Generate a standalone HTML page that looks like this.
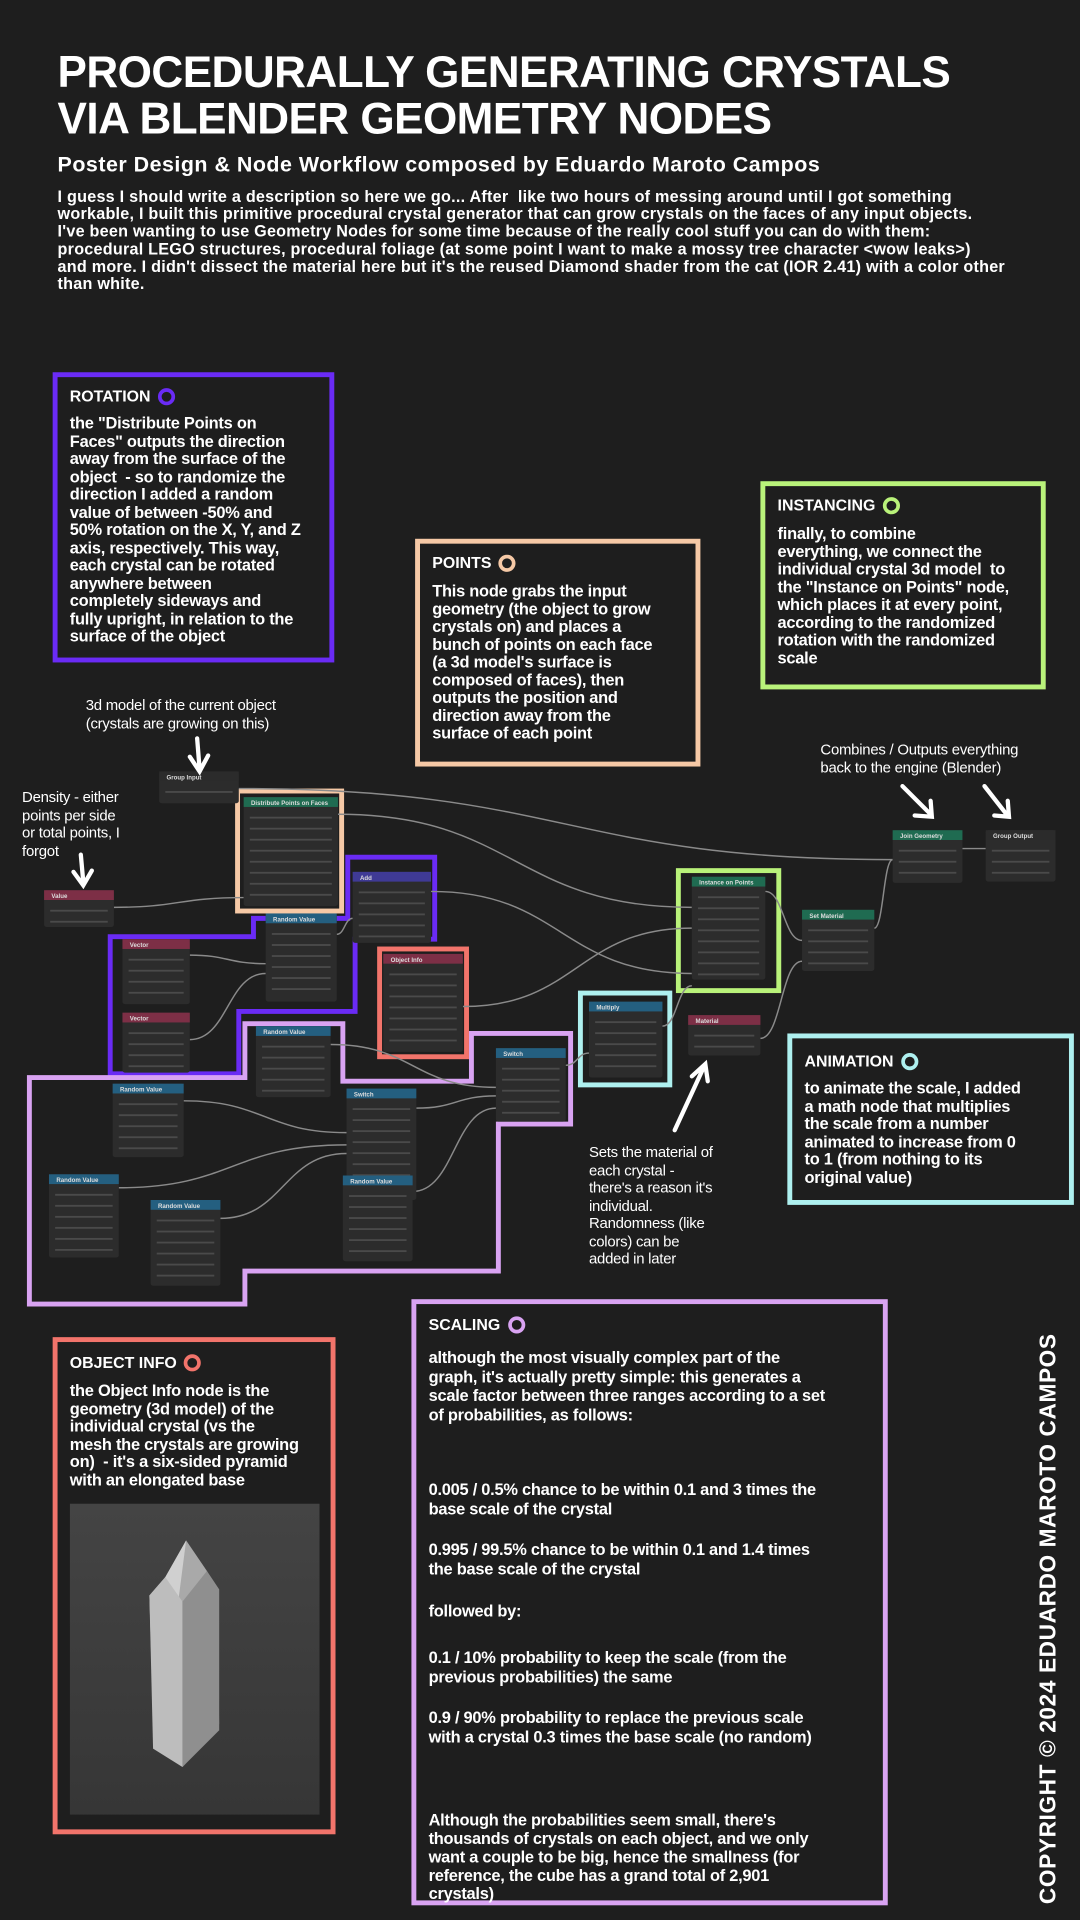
<!DOCTYPE html>
<html><head><meta charset="utf-8"><style>
html,body{margin:0;padding:0;background:#1e1e1e;width:1080px;height:1920px;overflow:hidden}
#wrap{position:absolute;left:0;top:0;width:882px;height:1568px;transform:scale(1.22449);transform-origin:0 0;font-family:"Liberation Sans",sans-serif;color:#fff;font-weight:bold}
.abs{position:absolute}
h1{position:absolute;left:47px;top:40px;margin:0;font-size:36px;line-height:38px;letter-spacing:-0.45px;font-weight:900;white-space:nowrap}
.sub{left:47px;top:124px;font-size:17.5px;letter-spacing:0.4px;white-space:nowrap}
.desc{left:47px;top:154px;font-size:13.2px;line-height:14.2px;letter-spacing:0.2px;white-space:nowrap}
.box{position:absolute;border:4px solid;box-sizing:border-box;background:#1e1e1e}
.box .t{position:absolute;left:10px;top:8px;font-size:13px;display:flex;align-items:center;gap:6px}
.dot{width:8px;height:8px;border-radius:50%;border:3px solid;display:inline-block}
.box .b{position:absolute;left:10px;top:32px;font-size:13.4px;line-height:14.5px;letter-spacing:-0.2px;white-space:nowrap}
.note{position:absolute;font-weight:normal;font-size:12.2px;line-height:14.5px;white-space:nowrap;letter-spacing:-0.2px}
.copy{position:absolute;left:845px;top:1555px;transform:rotate(-90deg);transform-origin:0 0;font-size:18.5px;font-weight:900;white-space:nowrap;letter-spacing:0.5px}
</style></head><body>
<div id="wrap">
<h1>PROCEDURALLY GENERATING CRYSTALS<br>VIA BLENDER GEOMETRY NODES</h1>
<div class="abs sub">Poster Design &amp; Node Workflow composed by Eduardo Maroto Campos</div>
<div class="abs desc">I guess I should write a description so here we go... After&nbsp; like two hours of messing around until I got something<br>workable, I built this primitive procedural crystal generator that can grow crystals on the faces of any input objects.<br>I've been wanting to use Geometry Nodes for some time because of the really cool stuff you can do with them:<br>procedural LEGO structures, procedural foliage (at some point I want to make a mossy tree character &lt;wow leaks&gt;)<br>and more. I didn't dissect the material here but it's the reused Diamond shader from the cat (IOR 2.41) with a color other<br>than white.</div>

<svg class="abs" style="left:0;top:0" width="882" height="1568" id="graph">
<g id="outlines" fill="none" stroke-width="4">
<polygon stroke="#6a2bf5" points="284,700 355,700 355,767 290,767 290,826 195,826 195,877 90,877 90,765 207,765 207,750 284,750"/>
<polygon stroke="#d9a3f2" points="24,880 200,880 200,836 280,836 280,883 385,883 385,844 466,844 466,918 407,918 407,1038 200,1038 200,1065 24,1065"/>
<rect stroke="#f6c9a6" x="194" y="646" width="85" height="98"/>
<rect stroke="#f2746b" x="310" y="775" width="71" height="88"/>
<rect stroke="#b9f27a" x="554" y="711" width="82" height="98"/>
<rect stroke="#aef0ef" x="474" y="811" width="73" height="75"/>
</g>
<g id="wires" fill="none" stroke="#8a8a8a" stroke-width="1.2"></g>
<g id="nodes"></g>
<g id="arrows" stroke="#fff" stroke-width="3.5" fill="none" stroke-linecap="round">
<path d="M161,603 L163,628 M155,618 L163,630 L170,617"/>
<path d="M66,698 L68,720 M60,712 L68,723 L75,711"/>
<path d="M737,642 L760,665 M747,666 L761,667 L760,654"/>
<path d="M804,642 L822,665 M812,666 L824,667 L823,654"/>
<path d="M551,923 L575,871 M565,879 L576,869 L578,883"/>
</g>
</svg>

<div class="note" style="left:70px;top:569px">3d model of the current object<br>(crystals are growing on this)</div>
<div class="note" style="left:18px;top:644px">Density - either<br>points per side<br>or total points, I<br>forgot</div>
<div class="note" style="left:670px;top:605px">Combines / Outputs everything<br>back to the engine (Blender)</div>
<div class="note" style="left:481px;top:934px">Sets the material of<br>each crystal -<br>there's a reason it's<br>individual.<br>Randomness (like<br>colors) can be<br>added in later</div>

<div class="box" style="left:43px;top:304px;width:230px;height:237px;border-color:#6a2bf5">
<div class="t"><span>ROTATION</span><span class="dot" style="border-color:#6a2bf5"></span></div>
<div class="b" style="top:31px">the "Distribute Points on<br>Faces" outputs the direction<br>away from the surface of the<br>object&nbsp; - so to randomize the<br>direction I added a random<br>value of between -50% and<br>50% rotation on the X, Y, and Z<br>axis, respectively. This way,<br>each crystal can be rotated<br>anywhere between<br>completely sideways and<br>fully upright, in relation to the<br>surface of the object</div></div>

<div class="box" style="left:339px;top:440px;width:233px;height:186px;border-color:#f6c9a6">
<div class="t"><span>POINTS</span><span class="dot" style="border-color:#f6c9a6"></span></div>
<div class="b">This node grabs the input<br>geometry (the object to grow<br>crystals on) and places a<br>bunch of points on each face<br>(a 3d model's surface is<br>composed of faces), then<br>outputs the position and<br>direction away from the<br>surface of each point</div></div>

<div class="box" style="left:621px;top:393px;width:233px;height:170px;border-color:#b9f27a">
<div class="t"><span>INSTANCING</span><span class="dot" style="border-color:#b9f27a"></span></div>
<div class="b">finally, to combine<br>everything, we connect the<br>individual crystal 3d model&nbsp; to<br>the "Instance on Points" node,<br>which places it at every point,<br>according to the randomized<br>rotation with the randomized<br>scale</div></div>

<div class="box" style="left:643px;top:844px;width:234px;height:140px;border-color:#aef0ef">
<div class="t" style="top:11px"><span>ANIMATION</span><span class="dot" style="border-color:#aef0ef"></span></div>
<div class="b" style="top:34px">to animate the scale, I added<br>a math node that multiplies<br>the scale from a number<br>animated to increase from 0<br>to 1 (from nothing to its<br>original value)</div></div>

<div class="box" style="left:43px;top:1092px;width:231px;height:406px;border-color:#f2746b">
<div class="t" style="top:9px"><span>OBJECT INFO</span><span class="dot" style="border-color:#f2746b"></span></div>
<div class="b" style="top:33px">the Object Info node is the<br>geometry (3d model) of the<br>individual crystal (vs the<br>mesh the crystals are growing<br>on)&nbsp; - it's a six-sided pyramid<br>with an elongated base</div>
<svg class="abs" style="left:10px;top:132px" width="204" height="254">
<defs><linearGradient id="bg" x1="0" y1="0" x2="0" y2="1"><stop offset="0" stop-color="#444"/><stop offset="1" stop-color="#363636"/></linearGradient></defs>
<rect width="204" height="254" fill="url(#bg)"/>
<polygon points="78,60 95,30 112,55 115,190 92,215 75,185" fill="#a9a9a9"/>
<polygon points="95,30 112,55 120,70 122,180 115,190 112,55" fill="#7a7a7a"/>
<polygon points="65,75 78,60 95,30 75,185 68,175" fill="#d0d0d0"/>
<polygon points="65,75 78,60 92,80 92,215 68,200" fill="#bdbdbd"/>
<polygon points="92,80 112,55 122,70 122,185 92,215" fill="#8f8f8f"/>
</svg></div>

<div class="box" style="left:336px;top:1061px;width:389px;height:495px;border-color:#d9a3f2">
<div class="t" style="top:9px"><span>SCALING</span><span class="dot" style="border-color:#d9a3f2"></span></div>
<div class="b" style="top:36px;line-height:15.6px">although the most visually complex part of the<br>graph, it's actually pretty simple: this generates a<br>scale factor between three ranges according to a set<br>of probabilities, as follows:</div>
<div class="b" style="top:144px;line-height:15.6px">0.005 / 0.5% chance to be within 0.1 and 3 times the<br>base scale of the crystal</div>
<div class="b" style="top:193px;line-height:15.6px">0.995 / 99.5% chance to be within 0.1 and 1.4 times<br>the base scale of the crystal</div>
<div class="b" style="top:244px">followed by:</div>
<div class="b" style="top:281px;line-height:15.6px">0.1 / 10% probability to keep the scale (from the<br>previous probabilities) the same</div>
<div class="b" style="top:330px;line-height:15.6px">0.9 / 90% probability to replace the previous scale<br>with a crystal 0.3 times the base scale (no random)</div>
<div class="b" style="top:414px;line-height:15px">Although the probabilities seem small, there's<br>thousands of crystals on each object, and we only<br>want a couple to be big, hence the smallness (for<br>reference, the cube has a grand total of 2,901<br>crystals)</div></div>

<div class="copy">COPYRIGHT © 2024 EDUARDO MAROTO CAMPOS</div>
</div>
<script>
const NS="http://www.w3.org/2000/svg";
const nodeTitles=["Group Input","Distribute Points on Faces","Value","Add","Random Value","Vector","Vector","Object Info","Random Value","Random Value","Switch","Switch","Random Value","Random Value","Random Value","Multiply","Material","Instance on Points","Set Material","Join Geometry","Group Output"];
const nodeBoxes=[[130,630,65,26],[199,651,77,89],[36,727,57,30],[288,712,64,58],[217,746,58,72],[100,767,55,53],[100,827,55,49],[313,779,65,80],[209,838,61,58],[92,885,58,60],[283,889,57,91],[405,856,57,60],[40,959,57,68],[123,980,57,70],[280,960,57,70],[481,818,60,62],[562,829,59,33],[565,716,60,84],[655,743,59,50],[729,678,57,43],[805,678,57,42]];
const nodeColors=["#2b2b2b","#1f6b51","#7d2f46","#3f3a95","#245f80","#7d2f46","#7d2f46","#7d2f46","#245f80","#245f80","#245f80","#245f80","#245f80","#245f80","#245f80","#245f80","#7d2f46","#1f6b51","#1f6b51","#1f6b51","#2b2b2b"];
const wires=[[195,644,729,702],[276,665,565,741],[93,741,199,733],[352,728,565,795],[275,763,288,750],[155,780,217,787],[155,849,217,795],[378,822,565,758],[270,853,405,888],[150,899,283,925],[97,970,283,935],[180,995,283,942],[340,905,405,895],[337,973,405,905],[462,870,481,860],[541,838,565,805],[625,728,655,768],[621,848,655,785],[714,758,729,702],[786,693,805,693]];
const wg=document.getElementById('wires');
for(const w of wires){const p=document.createElementNS(NS,'path');const mx=(w[0]+w[2])/2;
p.setAttribute('d',`M${w[0]},${w[1]} C${mx},${w[1]} ${mx},${w[3]} ${w[2]},${w[3]}`);


wg.appendChild(p);}
const ng=document.getElementById('nodes');
nodeBoxes.forEach((b,i)=>{const g=document.createElementNS(NS,'g');


const r=document.createElementNS(NS,'rect');r.setAttribute('x',b[0]);r.setAttribute('y',b[1]);r.setAttribute('width',b[2]);r.setAttribute('height',b[3]);r.setAttribute('fill','#2c2c2c');r.setAttribute('rx','2');g.appendChild(r);
const h=document.createElementNS(NS,'rect');h.setAttribute('x',b[0]);h.setAttribute('y',b[1]);h.setAttribute('width',b[2]);h.setAttribute('height',8);h.setAttribute('fill',nodeColors[i]);g.appendChild(h);
const t=document.createElementNS(NS,'text');t.setAttribute('x',b[0]+6);t.setAttribute('y',b[1]+6.5);t.setAttribute('font-size','5');t.setAttribute('fill','#ddd');t.setAttribute('font-family','Liberation Sans, sans-serif');t.textContent=nodeTitles[i];g.appendChild(t);
for(let y=b[1]+16;y<b[1]+b[3]-4;y+=9){const l=document.createElementNS(NS,'rect');l.setAttribute('x',b[0]+5);l.setAttribute('y',y);l.setAttribute('width',b[2]-10);l.setAttribute('height',1.5);l.setAttribute('fill','#4a4a4a');g.appendChild(l);}
ng.appendChild(g);});
</script>
</body></html>
